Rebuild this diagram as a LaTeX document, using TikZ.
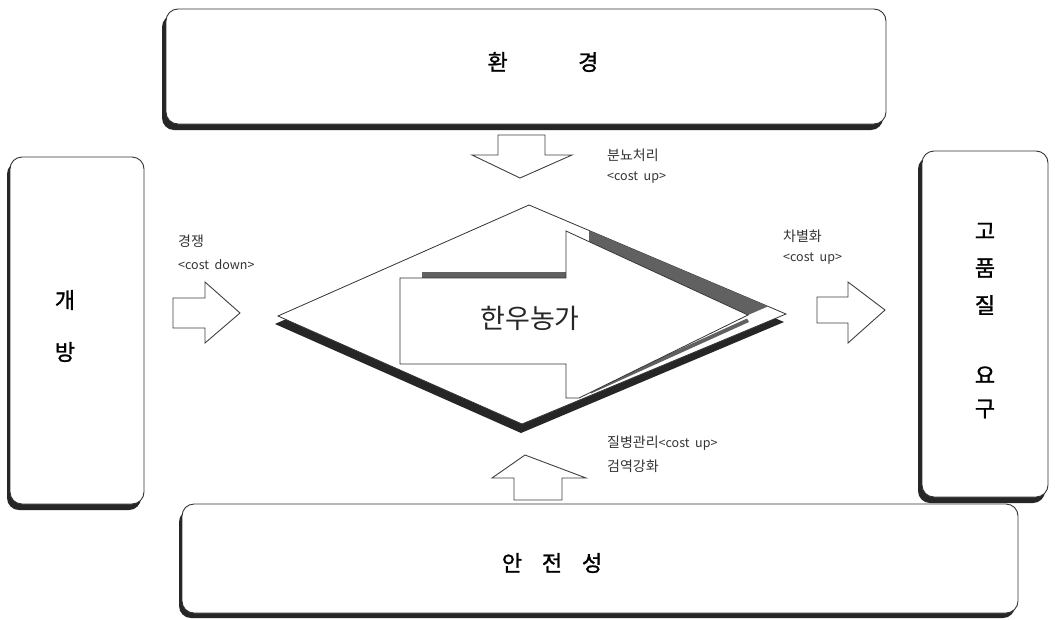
\documentclass[tikz,border=0pt]{standalone}
\usepackage{fontspec}
\setmainfont{Noto Sans CJK KR}
\newfontfamily\krmed[FakeBold=1.2]{Noto Sans CJK KR}
\usetikzlibrary{patterns}
\begin{document}
\begin{tikzpicture}[x=1pt,y=-1pt,
  boxshadow/.style={fill=black!85,rounded corners=12pt},
  boxmain/.style={draw=black!80,line width=0.9pt,fill=white,rounded corners=12pt},
  boxtext/.style={inner sep=0pt,font=\krmed\fontsize{22}{24}\selectfont,text=black},
  blockarrow/.style={draw=black!75,line width=0.9pt,fill=white,line join=miter},
  lbl/.style={anchor=west,inner sep=0pt,font=\fontsize{14}{16}\selectfont,text=black!80},
  costlbl/.style={anchor=west,inner sep=0pt,font=\fontsize{12.5}{14}\selectfont,text=black!80},
  dotband/.style={fill=black!62},
  diamondline/.style={draw=black!80,line width=0.8pt,fill=white,line join=miter}
]
\useasboundingbox (0,0) rectangle (1055,619);
\fill[white] (0,0) rectangle (1055,619);

% ---------- top box: 환경 ----------
\fill[boxshadow] (162,15) rectangle (883,130);
\draw[boxmain] (166,9) rectangle (886,124);
\node[boxtext] (env) at (543,62) {환\hspace{3.2em}경};

% ---------- left box: 개방 ----------
\fill[boxshadow] (7,162) rectangle (141,510);
\draw[boxmain] (10,157) rectangle (144,504);
\node[boxtext] (gae) at (65,300) {개};
\node[boxtext] (bang) at (65,352) {방};

% ---------- right box: 고품질 요구 ----------
\fill[boxshadow] (918,157) rectangle (1045,503);
\draw[boxmain] (922,151) rectangle (1048,497);
\node[boxtext] (go) at (985,231) {고};
\node[boxtext] (pum) at (985,268) {품};
\node[boxtext] (jil) at (985,305) {질};
\node[boxtext] (yo) at (985,375) {요};
\node[boxtext] (gu) at (985,409) {구};

% ---------- bottom box: 안전성 ----------
\fill[boxshadow] (179,510) rectangle (1015,618);
\draw[boxmain] (182,504) rectangle (1018,613);
\node[boxtext] (safe) at (552,563) {안\hspace{0.9em}전\hspace{0.9em}성};

% ---------- block arrows ----------
\draw[blockarrow] (498,135) -- (545,135) -- (545,155) -- (572,155) -- (520,178) -- (472,155) -- (498,155) -- cycle;
\draw[blockarrow] (514,500) -- (514,478) -- (492,478) -- (525,455) -- (586,478) -- (562,478) -- (562,500) -- cycle;
\draw[blockarrow] (173,298) -- (205,298) -- (205,282) -- (240,313) -- (205,343) -- (205,328) -- (173,328) -- cycle;
\draw[blockarrow] (817,297) -- (848,297) -- (848,282) -- (885,310) -- (848,343) -- (848,323) -- (817,323) -- cycle;

% ---------- central diamond ----------
\fill[black!85] (275,324) -- (527,213) -- (784,322) -- (521,433) -- cycle;
\draw[diamondline] (278,316) -- (529,205) -- (786,314) -- (522,424) -- cycle;

% shading of the big arrow
\fill[dotband] (422,272) rectangle (566,278);
\fill[dotband] (589,230.5) -- (768,306.4) -- (748,315) -- (589,241.6) -- cycle;
\fill[dotband] (747,318.5) -- (590,390) -- (591,393.5) -- (749,322) -- cycle;

% big arrow
\draw[draw=black!80,line width=0.8pt,fill=white,line join=miter]
  (400,278) -- (566,278) -- (566,231) -- (748,315) -- (579,398) -- (566,398) -- (566,364) -- (400,364) -- cycle;
\node[inner sep=0pt,font=\fontsize{27}{30}\selectfont,text=black!85] (farm) at (530,318) {한우농가};

% ---------- labels ----------
\node[lbl] (l1) at (178,241) {경쟁};
\node[costlbl] (l1c) at (178,265) {<cost\ \ down>};
\node[lbl] (l2) at (607,155) {분뇨처리};
\node[costlbl] (l2c) at (607,178) {<cost\ \ up>};
\node[lbl] (l3) at (783,236) {차별화};
\node[costlbl] (l3c) at (783,259) {<cost\ \ up>};
\node[lbl] (l4) at (607,443) {질병관리\fontsize{12.5}{14}\selectfont<cost\ \ up>};
\node[lbl] (l4b) at (607,466) {검역강화};
\end{tikzpicture}
\end{document}
